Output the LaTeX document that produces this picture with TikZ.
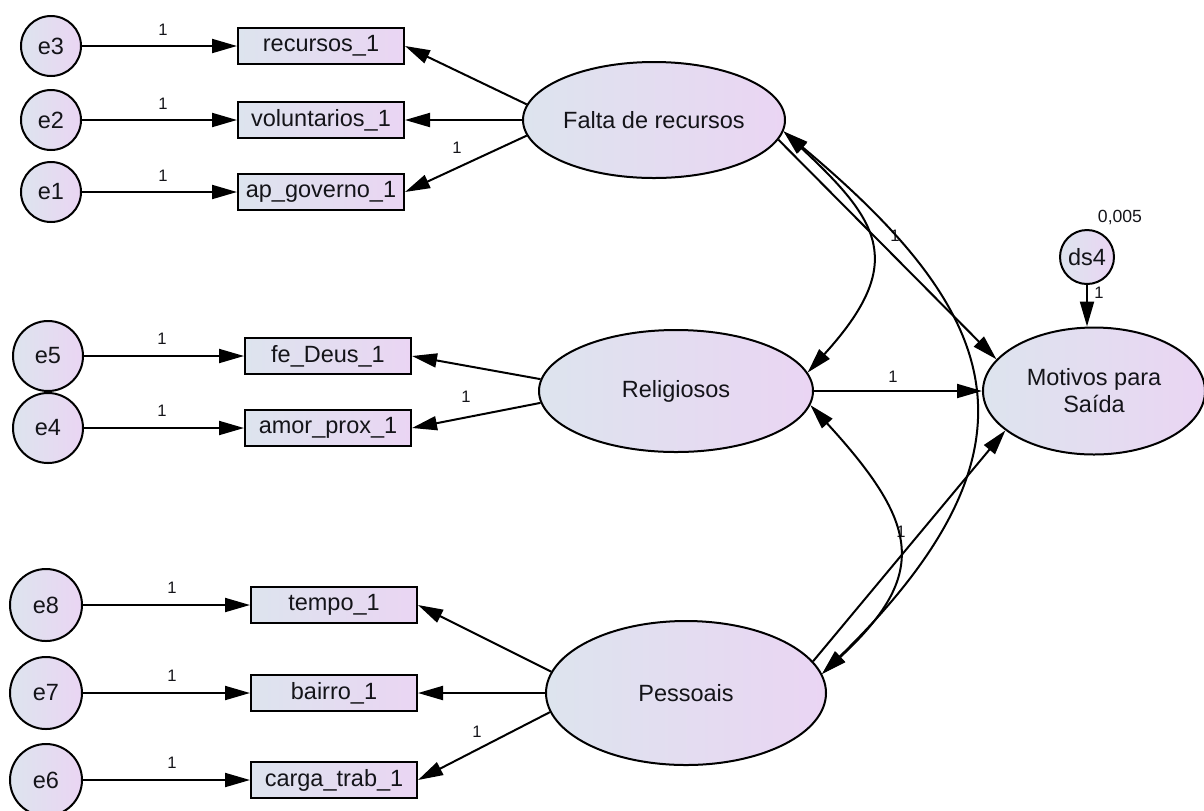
\documentclass[tikz,border=0pt]{standalone}
\usepackage{fontspec}
\setmainfont{Liberation Sans}
\usetikzlibrary{shapes.geometric,arrows.meta}
\definecolor{shadeL}{RGB}{221,228,238}
\definecolor{shadeR}{RGB}{234,213,243}
\definecolor{ink}{RGB}{20,20,25}
\begin{document}
\begin{tikzpicture}[x=0.5pt,y=-0.5pt,
  every node/.style={text=ink},
  latent/.style={ellipse, draw=black, line width=1pt, left color=shadeL, right color=shadeR,
    inner sep=0pt, align=center, font=\fontsize{11.75}{13.5}\selectfont},
  errvar/.style={circle, draw=black, line width=1pt, left color=shadeL, right color=shadeR,
    inner sep=0pt, font=\fontsize{11.75}{14}\selectfont},
  obsbox/.style={rectangle, draw=black, line width=1pt, left color=shadeL, right color=shadeR,
    minimum width=83pt, minimum height=18pt, inner sep=0pt, font=\fontsize{11.75}{14}\selectfont},
  tip/.tip={Triangle[length=12.5pt,width=7pt]},
  reg/.style={draw=black, line width=1pt, -tip},
  cov/.style={draw=black, line width=1pt, tip-tip},
  wt/.style={inner sep=0pt, font=\fontsize{8.3}{10}\selectfont},
]
\useasboundingbox (0,0) rectangle (1204,810);

% error terms
\node[errvar, minimum size=30pt] (e3) at (51,46) {e3};
\node[errvar, minimum size=30pt] (e2) at (51,120) {e2};
\node[errvar, minimum size=30pt] (e1) at (51,192) {e1};
\node[errvar, minimum size=35pt] (e5) at (48,356) {e5};
\node[errvar, minimum size=35pt] (e4) at (48,428) {e4};
\node[errvar, minimum size=36pt] (e8) at (46,605) {e8};
\node[errvar, minimum size=36pt] (e7) at (46,693) {e7};
\node[errvar, minimum size=36pt] (e6) at (46,780) {e6};

% observed variables
\node[obsbox] (rec)    at (321,46)  {recursos\_1};
\node[obsbox] (vol)    at (321,120) {voluntarios\_1};
\node[obsbox] (apg)    at (321,192) {ap\_governo\_1};
\node[obsbox] (fe)     at (328,356) {fe\_Deus\_1};
\node[obsbox] (amor)   at (328,428) {amor\_prox\_1};
\node[obsbox] (tempo)  at (334,605) {tempo\_1};
\node[obsbox] (bairro) at (334,693) {bairro\_1};
\node[obsbox] (carga)  at (334,780) {carga\_trab\_1};

% latent variables
\node[latent, minimum width=131pt, minimum height=58pt] (falta) at (654,120) {Falta de recursos};
\node[latent, minimum width=137pt, minimum height=61pt] (relig) at (676,391) {Religiosos};
\node[latent, minimum width=140pt, minimum height=72pt] (pess)  at (686,693) {Pessoais};
\node[latent, minimum width=111pt, minimum height=63.5pt] (motiv) at (1094,391) {Motivos para\\Saída};
\node[errvar, minimum size=27pt] (ds4) at (1087,257) {ds4};

% weights
\node[wt] (w3) at (163,30) {1};
\node[wt] (w2) at (163,104) {1};
\node[wt] (w1) at (163,176) {1};
\node[wt] (w5) at (162,339) {1};
\node[wt] (w4) at (162,411) {1};
\node[wt] (w8) at (172,588) {1};
\node[wt] (w7) at (172,676) {1};
\node[wt] (w6) at (172,763) {1};
\node[wt] (wapg) at (457,148) {1};
\node[wt] (wamor) at (466,397) {1};
\node[wt] (wcarga) at (477,732) {1};
\node[wt] (wfm) at (895,236) {1};
\node[wt] (wrm) at (893,377) {1};
\node[wt] (wpm) at (901,532) {1};
\node[wt] (wds) at (1099,293) {1};
\node[wt, font=\fontsize{8.8}{10}\selectfont] (var) at (1120,217) {0,005};

% error paths
\foreach \e/\v in {e3/rec, e2/vol, e1/apg, e5/fe, e4/amor, e8/tempo, e7/bairro, e6/carga}
  \draw[reg] (\e) -- (\v);

% loadings
\draw[reg] (falta.173) -- (rec.east);
\draw[reg] (falta.180) -- (vol.east);
\draw[reg] (falta.187) -- (apg.east);
\draw[reg] (relig.175) -- (fe.east);
\draw[reg] (relig.185) -- (amor.east);
\draw[reg] (pess.171.5) -- (tempo.east);
\draw[reg] (pess.180) -- (bairro.east);
\draw[reg] (pess.188) -- (carga.east);

% structural paths
\draw[reg] (falta.-9) -- (motiv.162);
\draw[reg] (relig.east) -- (motiv.west);
\draw[reg] (pess.14) -- (motiv.204);
\draw[reg] (ds4.south) -- (ds4.south |- motiv.north);

% covariances
\draw[cov] (falta.-5) .. controls +(96,90) and +(100,-110) .. (relig.8);
\draw[cov] (falta.-5) .. controls +(215,180) and +(235,-230) .. (pess.8);
\draw[cov] (relig.-6) .. controls +(108,118) and +(108,-100) .. (pess.8);
\end{tikzpicture}
\end{document}
